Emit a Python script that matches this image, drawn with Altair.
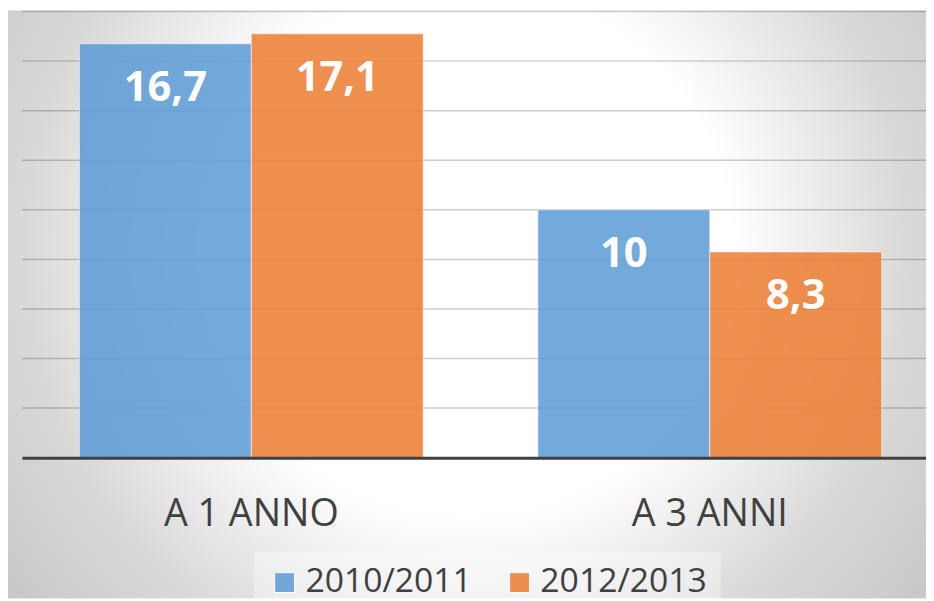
import altair as alt
import pandas as pd

categories = ["A 1 ANNO", "A 3 ANNI"]
series = ["2010/2011", "2012/2013"]
values_2010 = [16.7, 10.0]
values_2012 = [17.1, 8.3]
grid_values = [2, 4, 6, 8, 10, 12, 14, 16, 18]

rows = []
for i, c in enumerate(categories):
    rows.append({"cat": c, "series": series[0], "value": values_2010[i]})
    rows.append({"cat": c, "series": series[1], "value": values_2012[i]})
df = pd.DataFrame(rows)
grid_df = pd.DataFrame({"g": grid_values})
bg_df = pd.DataFrame({"a": [0]})

FONT = "Open Sans"
W, H = 912, 450

yscale = alt.Scale(domain=[0, 18], nice=False, zero=True)
xscale = alt.Scale(domain=categories, paddingInner=0.25, paddingOuter=0.111, align=0.565)
colors = alt.Scale(domain=series, range=["#5B9BD5", "#ED7D31"])

bg = alt.Chart(bg_df).mark_rect(
    fill={
        "gradient": "radial",
        "x1": 0.50, "y1": 0.441, "r1": 0,
        "x2": 0.50, "y2": 0.441, "r2": 0.64,
        "stops": [
            {"offset": 0, "color": "#ffffff"},
            {"offset": 0.45, "color": "#ffffff"},
            {"offset": 0.75, "color": "#d9d9d9"},
            {"offset": 1, "color": "#c6c6c6"},
        ],
    }
).encode(
    x=alt.value(-14), x2=alt.value(W), y=alt.value(-1), y2=alt.value(592)
)

grid = alt.Chart(grid_df).mark_rule(color="#000000", opacity=0.2, strokeWidth=1.5).encode(
    y=alt.Y("g:Q", scale=yscale, axis=None)
)

bars = alt.Chart(df).mark_bar(opacity=0.85, stroke="#ffffff", strokeOpacity=0.6, strokeWidth=1).encode(
    x=alt.X("cat:N", scale=xscale, sort=categories,
            axis=alt.Axis(title=None, labelAngle=0, ticks=False, tickSize=0,
                          domainColor="#404040", domainWidth=3,
                          labelFont=FONT, labelFontSize=38, labelColor="#404040",
                          labelBaseline="alphabetic", labelPadding=68, zindex=1)),
    xOffset=alt.XOffset("series:N", sort=series, scale=alt.Scale(paddingInner=0, paddingOuter=0)),
    y=alt.Y("value:Q", scale=yscale, axis=None),
    color=alt.Color("series:N", scale=colors, sort=series,
                    legend=alt.Legend(title=None, orient="none", direction="horizontal",
                                      legendX=234, legendY=545, symbolType="square",
                                      symbolSize=400, symbolStrokeColor="#ffffff",
                                      symbolStrokeWidth=1, symbolOpacity=0.85,
                                      labelFont=FONT, labelFontSize=34, labelColor="#404040",
                                      labelOffset=4, columnPadding=31, padding=14,
                                      fillColor="rgba(255,255,255,0.35)", labelLimit=400)),
)

labels = alt.Chart(df).transform_calculate(
    lab="replace(toString(datum.value), '.', ',')"
).mark_text(
    color="white", font=FONT, fontSize=42, fontWeight="bold", baseline="alphabetic", dy=58
).encode(
    x=alt.X("cat:N", scale=xscale, sort=categories),
    xOffset=alt.XOffset("series:N", sort=series),
    y=alt.Y("value:Q", scale=yscale),
    text="lab:N",
)

chart = alt.layer(bg, grid, bars, labels).properties(
    width=W, height=H,
    autosize=alt.AutoSizeParams(type="none"),
    padding={"left": 14, "top": 1, "right": 0, "bottom": 142},
).configure_view(stroke=None)

chart.save("out.html", embed_options={"renderer": "svg", "actions": False})
